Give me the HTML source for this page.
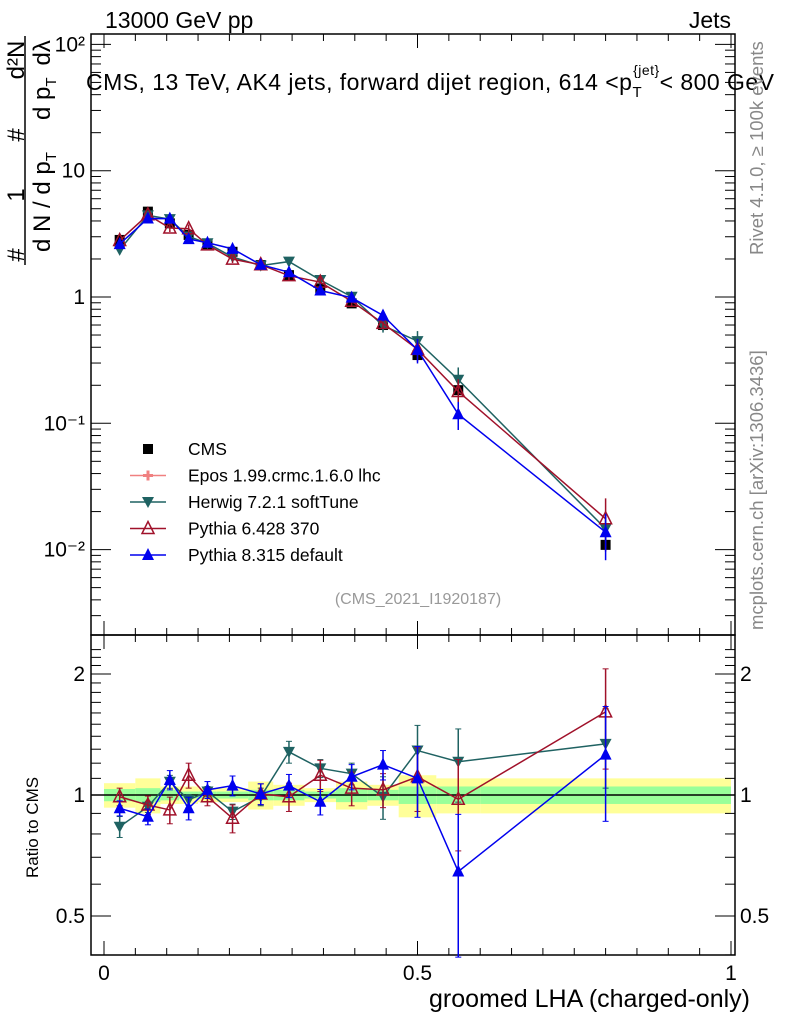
<!DOCTYPE html>
<html><head><meta charset="utf-8"><style>
body{margin:0;background:#fff}
svg text{font-family:"Liberation Sans",sans-serif}
</style></head><body>
<svg id="c" width="786" height="1024" xmlns="http://www.w3.org/2000/svg">
<g id="bands"></g>
<g id="axes"></g>
<g id="series"></g>
<text x="105" y="28" font-size="23">13000 GeV pp</text>
<text x="731" y="28" font-size="23" text-anchor="end">Jets</text>
<text x="86" y="90" font-size="23" textLength="688" lengthAdjust="spacing">CMS, 13 TeV, AK4 jets, forward dijet region, 614 &lt;p<tspan font-size="15" dy="7">T</tspan><tspan font-size="14" dy="-22" dx="-9">{jet}</tspan><tspan dy="15">&lt; 800 GeV</tspan></text>
<text x="418" y="604" font-size="16" fill="#999" text-anchor="middle">(CMS_2021_I1920187)</text>
<text transform="translate(763,255) rotate(-90)" font-size="18.5" fill="#888">Rivet 4.1.0, ≥ 100k events</text>
<text transform="translate(763,630) rotate(-90)" font-size="18.5" fill="#888">mcplots.cern.ch [arXiv:1306.3436]</text>
<g font-size="24">
<text transform="translate(24,255) rotate(-90)" text-anchor="middle">#</text>
<text transform="translate(24,195) rotate(-90)" text-anchor="middle">1</text>
<text transform="translate(24,135) rotate(-90)" text-anchor="middle">#</text>
<text transform="translate(24,60) rotate(-90)" text-anchor="middle">d²N</text>
<line x1="25" y1="265" x2="25" y2="36" stroke="#000" stroke-width="1.5"/>
<text transform="translate(50,252) rotate(-90)">d N / d p<tspan font-size="15" dy="6">T</tspan></text>
<text transform="translate(50,120) rotate(-90)">d p<tspan font-size="15" dy="6">T</tspan><tspan dy="-6" dx="12">dλ</tspan></text>
</g>
<text transform="translate(38,878) rotate(-90)" font-size="17">Ratio to CMS</text>
<text x="750" y="1007" font-size="25" text-anchor="end">groomed LHA (charged-only)</text>
<g id="legend"></g>
</svg>
<script>
const xs=[0.025,0.07,0.105,0.135,0.165,0.205,0.25,0.295,0.345,0.395,0.445,0.5,0.565,0.8];
const edges=[0,0.05,0.09,0.12,0.15,0.18,0.23,0.27,0.32,0.37,0.42,0.47,0.53,0.6,1.0];
const cms=[2.83,4.74,3.83,3.1,2.61,2.28,1.79,1.49,1.17,0.89,0.6,0.347,0.183,0.0109];
const bandGreen=[0.035,0.04,0.03,0.02,0.02,0.02,0.03,0.03,0.02,0.04,0.03,0.05,0.05,0.05];
const bandYellow=[0.07,0.1,0.05,0.05,0.04,0.04,0.08,0.06,0.04,0.08,0.06,0.12,0.1,0.1];
const herwigRatio=[0.834,0.935,1.079,0.972,1.02,0.909,0.99,1.28,1.165,1.13,0.99,1.29,1.21,1.34];
const herwigErr=[0.05,0.03,0.04,0.03,0.03,0.04,0.05,0.08,0.06,0.07,0.12,0.2,0.25,0.3];
const py6Ratio=[0.99,0.944,0.918,1.12,0.99,0.875,1.006,0.99,1.12,1.04,1.03,1.11,0.976,1.61];
const py6Err=[0.05,0.05,0.07,0.08,0.05,0.07,0.06,0.08,0.1,0.1,0.1,0.2,0.25,0.45];
const py8Ratio=[0.927,0.883,1.09,0.927,1.03,1.055,1.006,1.055,0.962,1.11,1.19,1.1,0.645,1.26];
const py8Err=[0.04,0.04,0.06,0.06,0.05,0.06,0.06,0.07,0.07,0.08,0.1,0.22,0.25,0.4];
const xTicks=[0,0.5,1];
const xTickLabels=["0","0.5","1"];
const yDecades=[-2,-1,0,1,2];
const yLabels=["10⁻²","10⁻¹","1","10","10²"];
const rTicks=[0.5,1,2];
const rLabels=["0.5","1","2"];

const NS="http://www.w3.org/2000/svg";
const L=91,R=735,T=34,MID=635,B=955;
const X=v=>104+v*627;
const Y=v=>297-Math.log10(v)*126.3;
const RY=v=>795-Math.log2(v)*121;
function mk(p,tag,at){const e=document.createElementNS(NS,tag);for(const k in at)e.setAttribute(k,at[k]);p.appendChild(e);return e;}
const axes=document.getElementById('axes'),bands=document.getElementById('bands'),ser=document.getElementById('series');

for(let i=0;i<cms.length;i++){
  const x1=X(edges[i]),x2=X(edges[i+1]);
  const y=mk(bands,'rect',{x:x1,y:RY(1+bandYellow[i]),width:x2-x1,height:RY(1-bandYellow[i])-RY(1+bandYellow[i]),fill:'#ffff99'});
  
  
  const g=mk(bands,'rect',{x:x1,y:RY(1+bandGreen[i]),width:x2-x1,height:RY(1-bandGreen[i])-RY(1+bandGreen[i]),fill:'#99ff99'});
  
  
}
mk(axes,'line',{x1:L,x2:R,y1:RY(1),y2:RY(1),stroke:'#000','stroke-width':1.5});

const f1=mk(axes,'rect',{x:L,y:T,width:R-L,height:MID-T,fill:'none',stroke:'#000','stroke-width':1.5});


const f2=mk(axes,'rect',{x:L,y:MID,width:R-L,height:B-MID,fill:'none',stroke:'#000','stroke-width':1.5});



for(let i=0;i<=20;i++){const v=i*0.05;const major=i%10==0;const len=major?14:7;const xl=X(v);
  if(xl>R)continue;
  for(const [yb,dir] of [[MID,-1],[T,1],[B,-1],[MID,1]]) mk(axes,'line',{x1:xl,x2:xl,y1:yb,y2:yb+dir*len,stroke:'#000'});
}
xTicks.forEach((v,i)=>{const t=mk(axes,'text',{x:X(v),y:980,'font-size':21,'text-anchor':'middle'});t.textContent=xTickLabels[i];
  
  });

for(let d=-3;d<=2;d++){for(let m=1;m<10;m++){const v=m*Math.pow(10,d);const y=Y(v);if(y<T||y>MID)continue;const len=m==1?20:10;
  mk(axes,'line',{x1:L,x2:L+len,y1:y,y2:y,stroke:'#000'});mk(axes,'line',{x1:R,x2:R-len,y1:y,y2:y,stroke:'#000'});}}
yDecades.forEach((d,i)=>{const t=mk(axes,'text',{x:85,y:Y(Math.pow(10,d))+7,'font-size':21,'text-anchor':'end'});t.textContent=yLabels[i];
  
  });

for(let v=0.4;v<=2.4;v+=0.1){const y=RY(v);if(y<MID||y>B)continue;const maj=[0.5,1,2].some(q=>Math.abs(q-v)<1e-6);const len=maj?20:10;
  mk(axes,'line',{x1:L,x2:L+len,y1:y,y2:y,stroke:'#000'});mk(axes,'line',{x1:R,x2:R-len,y1:y,y2:y,stroke:'#000'});}
rTicks.forEach((v,i)=>{for(const [x,a] of [[85,'end'],[740,'start']]){const t=mk(axes,'text',{x:x,y:RY(v)+7,'font-size':21,'text-anchor':a});t.textContent=rLabels[i];
  
  }});

function marker(g,type,x,y,col){
  if(type=='sq')return mk(g,'rect',{x:x-5,y:y-5,width:10,height:10,fill:col});
  if(type=='down')return mk(g,'polygon',{points:`${x-6},${y-5} ${x+6},${y-5} ${x},${y+6}`,fill:col});
  if(type=='upo')return mk(g,'polygon',{points:`${x-6},${y+5} ${x+6},${y+5} ${x},${y-7}`,fill:'none',stroke:col,'stroke-width':1.5});
  if(type=='up')return mk(g,'polygon',{points:`${x-6},${y+5} ${x+6},${y+5} ${x},${y-7}`,fill:col});
  if(type=='cross'){mk(g,'line',{x1:x-5,x2:x+5,y1:y,y2:y,stroke:col,'stroke-width':3});return mk(g,'line',{x1:x,x2:x,y1:y-5,y2:y+5,stroke:col,'stroke-width':3});}
}
const models=[
 {name:'herwig',ratio:herwigRatio,err:herwigErr,col:'#1f6262',m:'down'},
 {name:'pythia6',ratio:py6Ratio,err:py6Err,col:'#a0112a',m:'upo'},
 {name:'pythia8',ratio:py8Ratio,err:py8Err,col:'#0000ee',m:'up'}];
models.forEach(md=>{
  const g=mk(ser,'g',{});
  
  
  const vals=cms.map((c,i)=>c*md.ratio[i]);
  mk(g,'polyline',{points:xs.map((x,i)=>X(x)+','+Y(vals[i])).join(' '),fill:'none',stroke:md.col,'stroke-width':1.5});
  mk(g,'polyline',{points:xs.map((x,i)=>X(x)+','+RY(md.ratio[i])).join(' '),fill:'none',stroke:md.col,'stroke-width':1.5});
  xs.forEach((x,i)=>{
    const r=md.ratio[i],e=md.err[i],xp=X(x);
    mk(g,'line',{x1:xp,x2:xp,y1:RY(r+e),y2:RY(Math.max(r-e,0.3)),stroke:md.col,'stroke-width':1.5});
    mk(g,'line',{x1:xp-3,x2:xp+3,y1:RY(r+e),y2:RY(r+e),stroke:md.col});
    mk(g,'line',{x1:xp-3,x2:xp+3,y1:RY(r-e),y2:RY(r-e),stroke:md.col});
    const v=vals[i];
    mk(g,'line',{x1:xp,x2:xp,y1:Y(v*(1+e)),y2:Y(v*Math.max(1-e,0.3)),stroke:md.col,'stroke-width':1.5});
    const p1=marker(g,md.m,xp,Y(v),md.col);
    
    
    const p2=marker(g,md.m,xp,RY(r),md.col);
    
    
  });
});
const cg=mk(ser,'g',{});


xs.forEach((x,i)=>{const p=marker(cg,'sq',X(x),Y(cms[i]),'#000');
  
  });
ser.insertBefore(cg,ser.firstChild);

const lg=document.getElementById('legend');
const leg=[['CMS','sq','#000'],['Epos 1.99.crmc.1.6.0 lhc','cross','#f08080'],['Herwig 7.2.1 softTune','down','#1f6262'],['Pythia 6.428 370','upo','#a0112a'],['Pythia 8.315 default','up','#0000ee']];
leg.forEach((l,i)=>{const y=449+i*26.5;const g=mk(lg,'g',{});
  
  
  if(i>0)mk(g,'line',{x1:130,x2:166,y1:y,y2:y,stroke:l[2],'stroke-width':1.5});
  marker(g,l[1],148,y,l[2]);
  const t=mk(g,'text',{x:188,y:y+6,'font-size':17.5});t.textContent=l[0];});
</script>
</body></html>
